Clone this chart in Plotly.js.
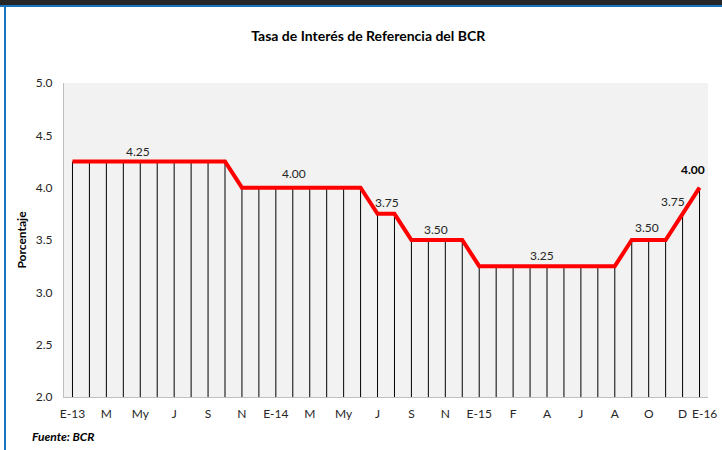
<!DOCTYPE html>
<html>
<head>
<meta charset="utf-8">
<script src="https://cdn.plot.ly/plotly-3.0.1.min.js"></script>
<style>
  html, body { margin: 0; padding: 0; background: #ffffff; }
  #wrap { position: relative; width: 722px; height: 450px; overflow: hidden; }
  #topbar { position: absolute; left: 0; top: 0; width: 722px; height: 5px; background: #262626; z-index: 5; }
  #topblue { position: absolute; left: 0; top: 5px; width: 722px; height: 2px; background: #1a73c2; z-index: 5; }
  #leftblue { position: absolute; left: 4px; top: 5px; width: 2px; height: 445px; background: #1a73c2; z-index: 5; }
  #chart { position: absolute; left: 0; top: 0; width: 722px; height: 450px; }
</style>
</head>
<body>
<div id="wrap">
  <div id="chart"></div>
  <div id="topbar"></div>
  <div id="topblue"></div>
  <div id="leftblue"></div>
</div>
<script>
// Reference rate values (%), one per observation
const rates = [
  4.25, 4.25, 4.25, 4.25, 4.25, 4.25, 4.25, 4.25, 4.25, 4.25,
  4.00, 4.00, 4.00, 4.00, 4.00, 4.00, 4.00, 4.00,
  3.75, 3.75,
  3.50, 3.50, 3.50, 3.50,
  3.25, 3.25, 3.25, 3.25, 3.25, 3.25, 3.25, 3.25, 3.25,
  3.50, 3.50, 3.50,
  3.75,
  4.00
];
const obs = rates.map((_, i) => i);

// Axis tick labels
const tickPositions = [0, 2, 4, 6, 8, 10, 12, 14, 16, 18, 20, 22, 24, 26, 28, 30, 32, 34, 36, 37];
const tickLabels = ["E-13", "M", "My", "J", "S", "N", "E-14", "M", "My", "J", "S", "N",
                    "E-15", "F", "A", "J", "A", "O", "D", "E-16"];

// Data labels
const labelObs = [4, 13, 18, 21, 28, 34, 36, 37];
const labelText = ["4.25", "4.00", "3.75", "3.50", "3.25", "3.50", "3.75", "4.00"];
const labelXShift = [-2, 1, 9, 8, -5, -2, -10, -7];
const labelYShift = [1, 5, 2, 1, 1, 3, 3, 9];
const labelBold = [false, false, false, false, false, false, false, true];

const yMin = 2.0;

const font = "Lato, 'Open Sans', 'DejaVu Sans', sans-serif";

// The last category label sits right next to the one before it; it is drawn
// as an axis-anchored annotation nudged to the right so the two do not collide.
const nTicks = tickPositions.length;
const axisTickVals = tickPositions.slice(0, nTicks - 1);
const axisTickText = tickLabels.slice(0, nTicks - 1);

const dropLines = {
  x: obs,
  y: rates,
  type: 'scatter',
  mode: 'markers',
  marker: { size: 1, color: 'rgba(0,0,0,0)' },
  error_y: {
    type: 'data',
    symmetric: false,
    array: rates.map(() => 0),
    arrayminus: rates.map(v => v - yMin),
    color: '#000000',
    thickness: 1,
    width: 0
  },
  hoverinfo: 'skip',
  showlegend: false
};

const rateLine = {
  x: obs,
  y: rates,
  type: 'scatter',
  mode: 'lines',
  line: { color: '#ff0000', width: 4 },
  showlegend: false
};

const annotations = labelObs.map((idx, k) => ({
  x: idx,
  y: rates[idx],
  xref: 'x',
  yref: 'y',
  text: labelBold[k] ? '<b>' + labelText[k] + '</b>' : labelText[k],
  showarrow: false,
  yanchor: 'bottom',
  xshift: labelXShift[k],
  yshift: labelYShift[k],
  font: { family: font, size: 12, color: labelBold[k] ? '#000000' : '#262626' }
}));

annotations.push({
  x: tickPositions[nTicks - 1],
  xref: 'x',
  y: 0,
  yref: 'paper',
  text: tickLabels[nTicks - 1],
  showarrow: false,
  xanchor: 'center',
  yanchor: 'top',
  xshift: 5,
  yshift: -7,
  font: { family: font, size: 12, color: '#262626' }
});

annotations.push({
  xref: 'paper', yref: 'paper',
  x: -0.053, y: -0.127,
  xanchor: 'left', yanchor: 'middle',
  text: '<b><i>Fuente: BCR</i></b>',
  showarrow: false,
  font: { family: font, size: 12, color: '#000000' }
});

const layout = {
  width: 722,
  height: 450,
  margin: { l: 64, r: 14, t: 83, b: 53 },
  paper_bgcolor: '#ffffff',
  plot_bgcolor: '#f2f2f2',
  title: {
    text: '<b>Tasa de Interés de Referencia del BCR</b>',
    x: 0.51, xanchor: 'center',
    y: 0.92, yanchor: 'middle',
    font: { family: font, size: 14, color: '#000000' }
  },
  xaxis: {
    range: [-0.5, 37.5],
    tickmode: 'array',
    tickvals: axisTickVals,
    ticktext: axisTickText,
    tickangle: 0,
    showgrid: false,
    zeroline: false,
    showline: true,
    linecolor: '#bfbfbf',
    linewidth: 1,
    ticks: '',
    ticklabelstandoff: 6,
    tickfont: { family: font, size: 12, color: '#262626' },
    fixedrange: true
  },
  yaxis: {
    range: [2.0, 5.0],
    tickmode: 'array',
    tickvals: [2.0, 2.5, 3.0, 3.5, 4.0, 4.5, 5.0],
    tickformat: '.1f',
    showgrid: false,
    zeroline: false,
    showline: true,
    linecolor: '#bfbfbf',
    linewidth: 1,
    ticks: '',
    ticklabelstandoff: 8,
    tickfont: { family: font, size: 12, color: '#262626' },
    title: {
      text: '<b>Porcentaje</b>',
      standoff: 6,
      font: { family: font, size: 12, color: '#000000' }
    },
    fixedrange: true
  },
  annotations: annotations
};

Plotly.newPlot('chart', [dropLines, rateLine], layout, { displayModeBar: false, staticPlot: true });
</script>
</body>
</html>
